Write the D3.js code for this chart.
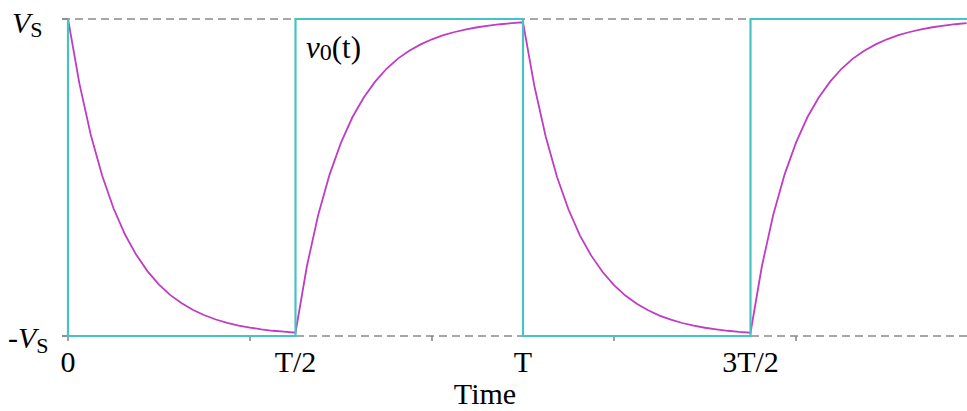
<!DOCTYPE html>
<html>
<head>
<meta charset="utf-8">
<script src="https://cdn.jsdelivr.net/npm/d3@7"></script>
<style>
  html, body { margin: 0; padding: 0; background: #fff; overflow: hidden; }
  svg { display: block; }
</style>
</head>
<body>
<svg id="chart" width="967" height="411"></svg>
<script>
// ---- data (time in units of T, voltage in units of Vs) ----
const tickMarks = [0, 0.4, 0.8, 1.2, 1.6];
const xLabelPos = [0, 0.5, 1, 1.5];
const xLabels = ["0", "T/2", "T", "3T/2"];
const squareT = [0, 0, 0.5, 0.5, 1, 1, 1.5, 1.5, 2];
const squareV = [1, -1, -1, 1, 1, -1, -1, 1, 1];
const timeT = [
  0, 0.025, 0.05, 0.075, 0.1, 0.125, 0.15, 0.175, 0.2, 0.225, 0.25, 0.275, 0.3, 0.325, 0.35, 0.375, 0.4, 0.425, 0.45, 0.475,
  0.5, 0.525, 0.55, 0.575, 0.6, 0.625, 0.65, 0.675, 0.7, 0.725, 0.75, 0.775, 0.8, 0.825, 0.85, 0.875, 0.9, 0.925, 0.95, 0.975,
  1.0, 1.025, 1.05, 1.075, 1.1, 1.125, 1.15, 1.175, 1.2, 1.225, 1.25, 1.275, 1.3, 1.325, 1.35, 1.375, 1.4, 1.425, 1.45, 1.475,
  1.5, 1.525, 1.55, 1.575, 1.6, 1.625, 1.65, 1.675, 1.7, 1.725, 1.75, 1.775, 1.8, 1.825, 1.85, 1.875, 1.9, 1.925, 1.95, 1.975
];
const v0 = [
  1, 0.594, 0.270, 0.012, -0.194, -0.358, -0.488, -0.592, -0.676, -0.742, -0.794, -0.836, -0.869, -0.896, -0.917, -0.934, -0.947, -0.958, -0.967, -0.973,
  -0.979, -0.560, -0.235, 0.020, 0.220, 0.380, 0.505, 0.605, 0.686, 0.750, 0.800, 0.840, 0.872, 0.898, 0.918, 0.935, 0.948, 0.958, 0.967, 0.974,
  0.979, 0.577, 0.257, 0.001, -0.202, -0.365, -0.493, -0.596, -0.679, -0.745, -0.796, -0.838, -0.871, -0.897, -0.918, -0.935, -0.948, -0.958, -0.967, -0.974,
  -0.979, -0.560, -0.235, 0.020, 0.220, 0.380, 0.505, 0.605, 0.686, 0.750, 0.800, 0.840, 0.872, 0.898, 0.918, 0.935, 0.948, 0.958, 0.967, 0.974
];

const FONT = "'Liberation Serif', 'Times New Roman', 'DejaVu Serif', serif";
const svg = d3.select("#chart");
const x = d3.scaleLinear().domain([0, 2]).range([68, 978]);
const y = d3.scaleLinear().domain([-1, 1]).range([336, 19]);

const cyan = "#46c4c4";
const magenta = "#c03cc4";
const gray = "#8a8a8a";

// dashed reference lines at +Vs and -Vs
svg.append("g").selectAll("line").data([1, -1]).join("line")
  .attr("x1", 62).attr("x2", 967)
  .attr("y1", d => y(d)).attr("y2", d => y(d))
  .attr("stroke", gray).attr("stroke-width", 1.6)
  .attr("stroke-dasharray", "8,5");

// small y ticks
svg.append("g").selectAll("line").data([1, -1]).join("line")
  .attr("x1", 62).attr("x2", x(0))
  .attr("y1", d => y(d)).attr("y2", d => y(d))
  .attr("stroke", gray).attr("stroke-width", 1.6);

// x tick marks
svg.append("g").selectAll("line").data(tickMarks).join("line")
  .attr("x1", d => x(d)).attr("x2", d => x(d))
  .attr("y1", y(-1)).attr("y2", y(-1) + 5)
  .attr("stroke", gray).attr("stroke-width", 1.6);

// magenta response
const line = d3.line().x(d => x(d[0])).y(d => y(d[1]));
svg.append("path")
  .datum(timeT.map((t, i) => [t, v0[i]]))
  .attr("d", line)
  .attr("fill", "none").attr("stroke", magenta).attr("stroke-width", 1.8);

// cyan square wave
svg.append("path")
  .datum(squareT.map((t, i) => [t, squareV[i]]))
  .attr("d", line)
  .attr("fill", "none").attr("stroke", cyan).attr("stroke-width", 2.2);

// x labels
svg.append("g").selectAll("text").data(xLabels).join("text")
  .attr("x", (d, i) => x(xLabelPos[i]))
  .attr("y", 372)
  .attr("text-anchor", "middle")
  .attr("font-family", FONT)
  .attr("font-size", 30)
  .text(d => d);

svg.append("text")
  .attr("x", 485).attr("y", 404)
  .attr("text-anchor", "middle")
  .attr("font-family", FONT)
  .attr("font-size", 30)
  .text("Time");

// y labels
const vTop = svg.append("text").attr("x", 12).attr("y", 33)
  .attr("font-family", FONT).attr("font-size", 30);
vTop.append("tspan").attr("font-style", "italic").text("V");
vTop.append("tspan").attr("font-size", 22).attr("dy", 4).text("S");

const vBot = svg.append("text").attr("x", 8).attr("y", 348)
  .attr("font-family", FONT).attr("font-size", 30);
vBot.append("tspan").text("-");
vBot.append("tspan").attr("font-style", "italic").text("V");
vBot.append("tspan").attr("font-size", 22).attr("dy", 5).text("S");

// v0(t) label
const vl = svg.append("text").attr("x", 306).attr("y", 58)
  .attr("font-family", FONT).attr("font-size", 31);
vl.append("tspan").attr("font-style", "italic").text("v");
vl.append("tspan").attr("font-size", 24).attr("dy", 2).text("0");
vl.append("tspan").attr("dy", -2).text("(t)");
</script>
</body>
</html>
